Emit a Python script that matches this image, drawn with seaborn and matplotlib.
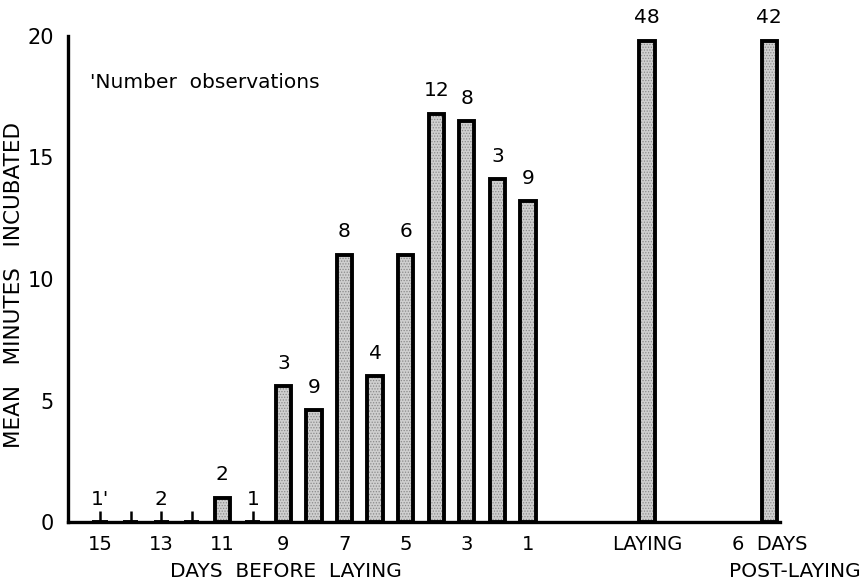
import numpy as np
import pandas as pd
import matplotlib
matplotlib.use("Agg")
import matplotlib.pyplot as plt
import seaborn as sns

# data
days_before = [15, 14, 13, 12, 11, 10, 9, 8, 7, 6, 5, 4, 3, 2, 1]
minutes_before = [0, 0, 0, 0, 1.0, 0, 5.6, 4.6, 11.0, 6.0, 11.0, 16.8, 16.5, 14.1, 13.2]
counts_before = ["1'", "", "2", "", "2", "1", "3", "9", "8", "4", "6", "12", "8", "3", "9"]

other_groups = ["LAYING", "6  DAYS"]
minutes_other = [19.8, 19.8]
counts_other = ["48", "42"]

xtick_days = [15, 13, 11, 9, 7, 5, 3, 1]

sns.set_style("white")
plt.rcParams["font.family"] = ["DejaVu Sans"]
plt.rcParams["text.color"] = "black"
plt.rcParams["xtick.color"] = "black"
plt.rcParams["ytick.color"] = "black"
plt.rcParams["axes.edgecolor"] = "black"
plt.rcParams["hatch.linewidth"] = 0.6

# x positions: one unit per day, two extra groups to the right
pos = [15 - d for d in days_before] + [17.9, 21.9]
df = pd.DataFrame({
    "pos": pos,
    "minutes": minutes_before + minutes_other,
    "n": counts_before + counts_other,
})

fig = plt.figure(figsize=(8.65, 5.86), dpi=100)
ax = fig.add_axes([0.0786, 0.1092, 0.8231, 0.8294])

# stippled fill
sns.barplot(data=df, x="pos", y="minutes", native_scale=True, width=0.5,
            color="#cfcfcf", edgecolor="#8a8a8a", linewidth=0, hatch="......",
            ax=ax)
# black outlines
sns.barplot(data=df, x="pos", y="minutes", native_scale=True, width=0.5,
            fill=False, edgecolor="black", linewidth=2.8, ax=ax)

# small marks for days with zero minutes
zero = df[df["minutes"] == 0]
ax.vlines(zero["pos"], 0, 0.45, color="black", linewidth=1.8)

# number of observations above each bar
for _, r in df.iterrows():
    if r["n"]:
        ax.text(r["pos"], r["minutes"] + 0.55, r["n"], ha="center", va="bottom",
                fontsize=14.5)

ax.set_xlim(-1.05, 22.25)
ax.set_ylim(0, 20)
ax.set_yticks([0, 5, 10, 15, 20])
ax.set_yticklabels(["0", "5", "10", "15", "20"], fontsize=15)
ax.set_xticks([15 - d for d in xtick_days] + [17.9, 21.9])
ax.set_xticklabels([str(d) for d in xtick_days] + other_groups, fontsize=14)
ax.tick_params(axis="x", length=0, pad=9)
ax.tick_params(axis="y", length=8, width=2, pad=2)
ax.set_xlabel("")
ax.set_ylabel("")
sns.despine(ax=ax)
for s in ["left", "bottom"]:
    ax.spines[s].set_linewidth(2.4)

fig.text(0.016, 0.513, "MEAN   MINUTES   INCUBATED", fontsize=15.5,
         rotation=90, ha="center", va="center")
ax.text(-0.33, 18.1, "'Number  observations", fontsize=14.5, ha="left", va="center")
fig.text(0.33, 0.024, "DAYS  BEFORE  LAYING", fontsize=14.5, ha="center", va="center")
fig.text(0.995, 0.024, "POST-LAYING", fontsize=14.5, ha="right", va="center")

fig.savefig("out.png", dpi=100)
